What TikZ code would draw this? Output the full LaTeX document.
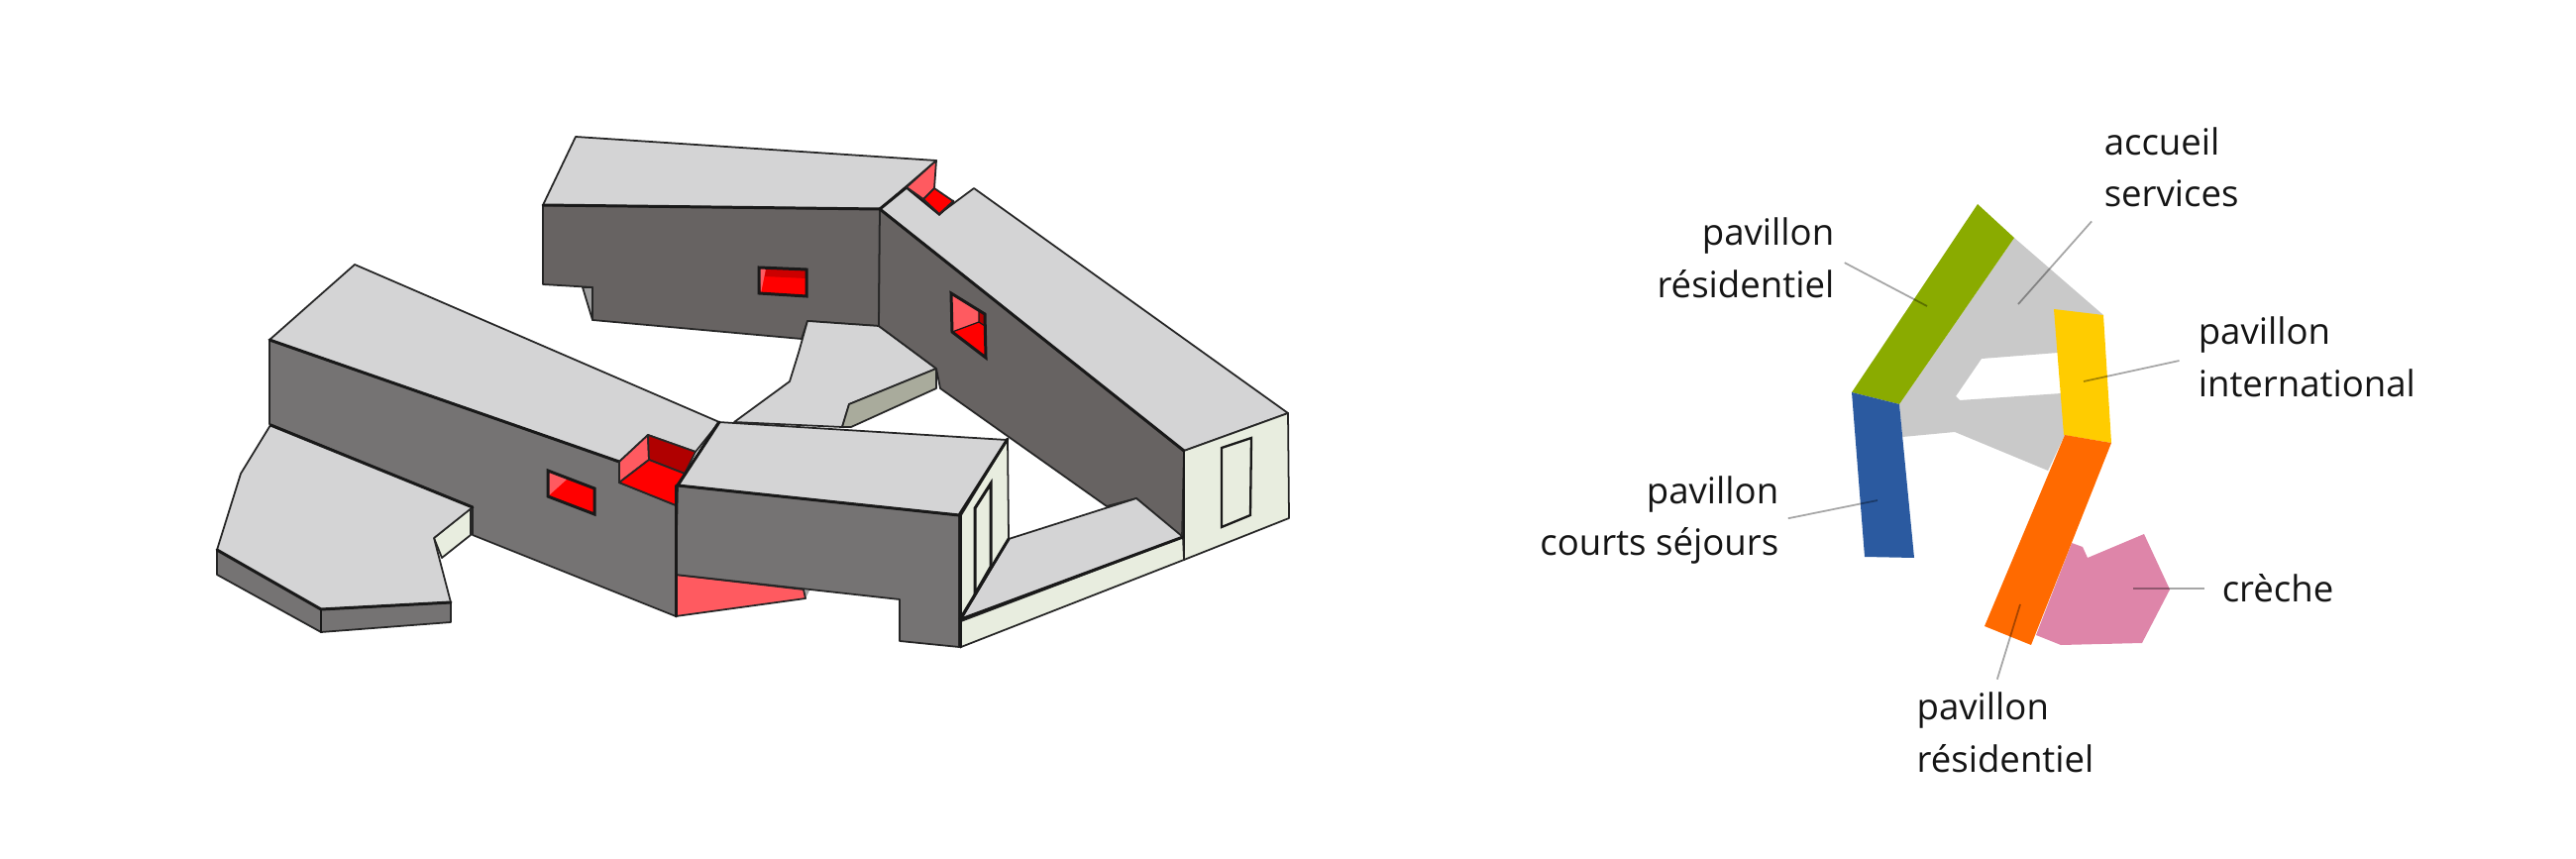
\documentclass[tikz,border=0pt]{standalone}
\usepackage{fontspec}
\setmainfont{Open Sans}
\usetikzlibrary{positioning}
\definecolor{roofgrey}{HTML}{D4D4D5}
\definecolor{wallnorth}{HTML}{676362}
\definecolor{wallsouth}{HTML}{757373}
\definecolor{palegreen}{HTML}{E8EDDF}
\definecolor{redmid}{HTML}{FF0000}
\definecolor{redlight}{HTML}{FF5A60}
\definecolor{reddark}{HTML}{B00000}
\definecolor{olivegrey}{HTML}{A9AB9C}
\definecolor{plangrey}{HTML}{C9C9C9}
\definecolor{plangreen}{HTML}{8AAB00}
\definecolor{planblue}{HTML}{2B5AA0}
\definecolor{planyellow}{HTML}{FFCC00}
\definecolor{planorange}{HTML}{FF6A00}
\definecolor{planpink}{HTML}{DE85A9}
\tikzstyle{face}  = [draw=black!85,
                     line width=0.5pt,
                     line join=round]
\tikzstyle{heavy} = [draw=black!90,
                     line width=0.85pt,
                     line cap=round]
\tikzstyle{caption}=[
                     inner sep=0pt,
                     text=black!92,
                     font=\fontsize{10.4}{15}\selectfont
                    ]
\tikzstyle{leader} = [draw=black,
                      opacity=0.35,
                      line width=0.5pt]

\begin{document}
\begin{tikzpicture}[x=0.01cm,y=-0.01cm]

  \useasboundingbox (0,0) rectangle (2600,867);

  % North wing
  \fill[face,fill=wallnorth] (548,207) -- (888,211) -- (887,329) -- (815,324) -- (809,342)
    -- (598,323) -- (598,290) -- (548,287) -- cycle;
  \fill[face,fill=gray!75] (588,290) -- (598,290) -- (598,323) -- cycle;
  \fill[face,fill=roofgrey] (581,138) -- (945,162) -- (888,211) -- (548,207) -- cycle;
  \draw[heavy] (548,207) -- (888,211);
  % North wing window
  \fill[face,fill=redmid] (766,270) -- (814,272) -- (814,299) -- (766,296) -- cycle;
  \fill[redmid!80!black] (773,271) -- (814,272) -- (814,281) -- (772,279) -- cycle;
  \fill[redlight] (766,270) -- (773,271) -- (768,296) -- cycle;
  \draw[heavy] (766,270) -- (814,272) -- (814,299) -- (766,296) -- cycle;

  % Connecting terrace
  \fill[face,fill=roofgrey] (815,324) -- (887,329) -- (945,372) -- (857,408) -- (850,431)
    -- (741,426) -- (797,385) -- (806,356) -- cycle;
  \fill[face,fill=olivegrey] (945,372) -- (945,392) -- (859,431) -- (850,431) -- (857,408) -- cycle;

  % East wing
  \fill[face,fill=wallnorth] (888,211) -- (1195,455) -- (1193,542) -- (1147,503) -- (1117,511)
    -- (949,392) -- (945,372) -- (887,329) -- cycle;
  \fill[face,fill=roofgrey] (888,211) -- (915,189) -- (948,216) -- (983,190) -- (1300,417)
    -- (1195,455) -- cycle;
  \draw[heavy] (888,211) -- (1195,455);
  \draw[heavy] (888,211) -- (915,189) -- (948,216) -- (962,203);
  % Notch in the east wing
  \fill[face,fill=redlight] (945,162) -- (915,189) -- (932,201) -- (943,190) -- cycle;
  \fill[face,fill=redmid] (943,190) -- (932,201) -- (948,216) -- (962,203) -- cycle;
  % East wing window
  \fill[redlight] (960,297) -- (988,313) -- (988,325) -- (961,335) -- cycle;
  \fill[reddark] (988,313) -- (994,317) -- (994,329) -- (988,325) -- cycle;
  \fill[redmid] (961,335) -- (988,325) -- (994,329) -- (995,361) -- cycle;
  \draw[heavy] (960,296) -- (994,317) -- (995,361) -- (961,335) -- cycle;
  \draw[heavy,line width=0.35pt] (988,313) -- (988,325) -- (961,335) (988,325) -- (994,329);
  % East wing end
  \fill[face,fill=palegreen] (1195,455) -- (1300,417) -- (1301,523) -- (1195,565) -- cycle;
  \draw[heavy,line width=0.65pt] (1233,452) -- (1263,442) -- (1262,520) -- (1233,532) -- cycle;
  \draw[heavy,line width=0.65pt] (1195,455) -- (1195,565);

  % South terrace
  \fill[face,fill=roofgrey] (970,625) -- (1018,544) -- (1147,503) -- (1194,542) -- cycle;
  \fill[face,fill=palegreen] (970,627) -- (970,653) -- (1195,565) -- (1194,542) -- cycle;
  \draw[heavy] (970,625) -- (1194,542);

  % West wing
  \fill[face,fill=wallsouth] (272,343) -- (625,466) -- (625,487) -- (682,510) -- (682,622)
    -- (477,540) -- (477,512) -- (272,428) -- cycle;
  \fill[face,fill=roofgrey] (358,267) -- (726,426) -- (702,456) -- (654,439) -- (625,466)
    -- (272,343) -- cycle;
  \draw[heavy] (272,343) -- (625,466);
  % Notch in the west wing
  \fill[face,fill=redlight] (625,466) -- (654,439) -- (655,464) -- (625,487) -- cycle;
  \fill[face,fill=reddark] (654,439) -- (702,456) -- (691,478) -- (655,464) -- cycle;
  \fill[face,fill=redmid] (655,464) -- (691,478) -- (683,490) -- (682,510) -- (625,487) -- cycle;
  % West wing window
  \fill[redmid] (553,475) -- (600,493) -- (600,519) -- (553,501) -- cycle;
  \fill[redlight] (553,475) -- (573,483) -- (553,501) -- cycle;
  \draw[heavy] (553,475) -- (600,493) -- (600,519) -- (553,501) -- cycle;

  % West terrace
  \fill[face,fill=palegreen] (475,513) -- (475,540) -- (446,563) -- (438,543) -- cycle;
  \fill[face,fill=wallsouth] (219,555) -- (219,580) -- (324,638) -- (455,628) -- (455,608)
    -- (324,615) -- cycle;
  \fill[face,fill=roofgrey] (273,429) -- (477,512) -- (438,543) -- (455,608) -- (324,615)
    -- (219,555) -- (243,478) -- cycle;
  \draw[heavy] (273,429) -- (477,512) (219,555) -- (324,615) -- (455,608);
  \draw[heavy,line width=0.65pt] (324,615) -- (324,638);

  % Central wing
  \fill[fill=gray!70] (811,595) -- (817,596) -- (813,604) -- cycle;
  \fill[face,fill=redlight] (682,580) -- (811,595) -- (813,604) -- (682,622) -- cycle;
  \fill[face,fill=wallsouth] (684,490) -- (968,520) -- (968,653) -- (908,647) -- (908,605)
    -- (682,580) -- cycle;
  \fill[face,fill=roofgrey] (725,426) -- (1016,444) -- (968,520) -- (684,490) -- cycle;
  \fill[face,fill=palegreen] (970,520) -- (1017,443) -- (1018,544) -- (970,625) -- cycle;
  \draw[heavy] (984,513) -- (1000,488) -- (1000,572) -- (984,600) -- cycle;
  \draw[heavy] (726,426) -- (684,490) -- (968,520) -- (1017,443);
  \draw[heavy] (682,490) -- (682,622);
  \draw[heavy] (969,520) -- (969,653);
  \draw[heavy] (969,625) -- (1018,544);

  % Plan
  \fill[plangrey] (2033,240) -- (2123,318) -- (2077,330) -- (2077,356) -- (2000,362) -- (1974,400)
    -- (1978,404) -- (2081,397) -- (2084,439) -- (2067,475) -- (1973,436) -- (1920,441)
    -- (1917,408) -- cycle;
  \fill[plangreen] (1996,206) -- (2033,240) -- (1917,408) -- (1869,396) -- cycle;
  \fill[planblue] (1869,396) -- (1917,408) -- (1932,563) -- (1882,562) -- cycle;
  \fill[planyellow] (2073,312) -- (2123,318) -- (2131,447) -- (2083,439) -- cycle;
  \fill[planpink] (2091,548) -- (2102,552) -- (2107,563) -- (2164,539) -- (2190,595) -- (2162,649)
    -- (2080,651) -- (2055,641) -- cycle;
  \fill[planorange] (2084,439) -- (2131,447) -- (2050,651) -- (2003,632) -- cycle;

  % Nodes
  \coordinate (tipgreen) at (1945,309);
  \coordinate (tipblue) at (1895,505);
  \coordinate (tiporange) at (2039,610);
  \coordinate (tippink) at (2153,594);
  \coordinate (tipyellow) at (2103,385);
  \coordinate (tipgrey) at (2037,307);

  \node[caption, align=right, left=0.93cm of tipgreen, yshift=0.49cm] (resnorth) {pavillon\\résidentiel};
  \node[caption, align=right, left=0.99cm of tipblue, yshift=-0.2cm] (courts) {pavillon\\courts séjours};
  \node[caption, align=left, below=0.88cm of tiporange, xshift=-0.15cm] (ressouth) {pavillon\\résidentiel};
  \node[caption, right=0.89cm of tippink] (creche) {crèche};
  \node[caption, align=left, right=1.15cm of tipyellow, yshift=0.25cm] (intl) {pavillon\\international};
  \node[caption, align=left, above right=0.97cm and 0.86cm of tipgrey] (accueil) {accueil\\services};

  % Edges
  \draw[leader, shorten <=0.11cm] (resnorth.east) -- (tipgreen);
  \draw[leader, shorten <=0.09cm] (courts.east) -- (tipblue);
  \draw[leader, shorten <=0.13cm] ([xshift=-1.2mm]ressouth.north) -- (tiporange);
  \draw[leader, shorten <=0.17cm] (creche.west) -- (tippink);
  \draw[leader, shorten <=0.19cm] (intl.west) -- (tipyellow);
  \draw[leader, shorten <=0.18cm] (accueil.south west) -- (tipgrey);

\end{tikzpicture}
\end{document}
